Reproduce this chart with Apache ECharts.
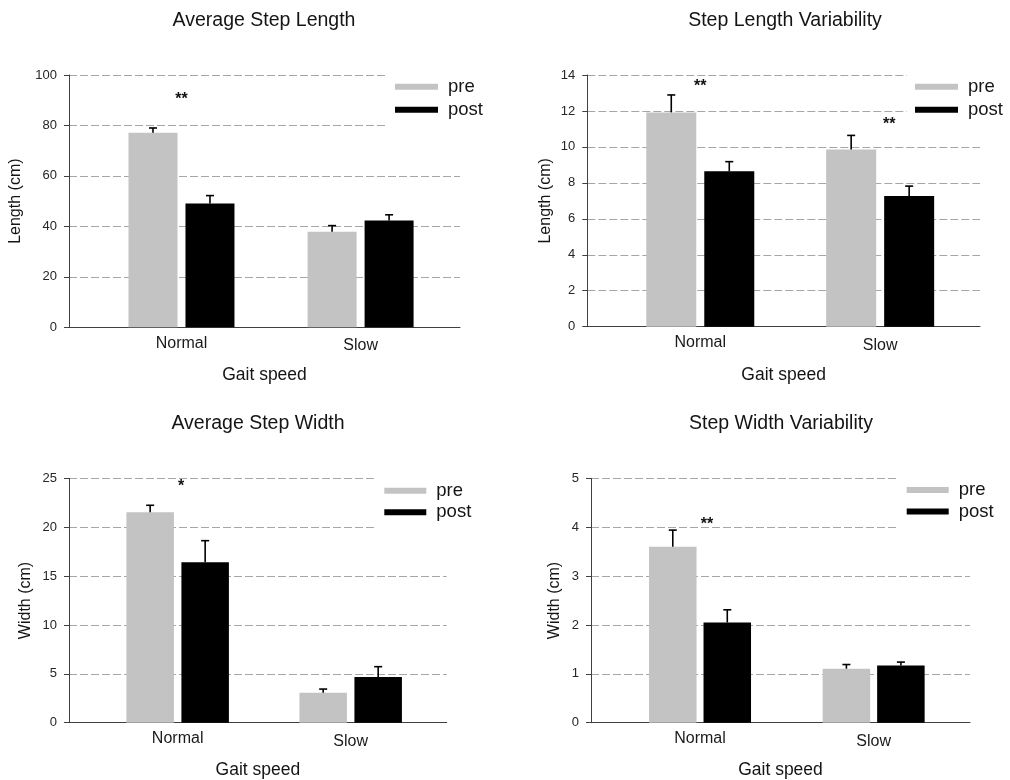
<!DOCTYPE html>
<html>
<head>
<meta charset="utf-8">
<title>Gait speed - step length and width</title>
<script src="https://cdn.jsdelivr.net/npm/echarts@6/dist/echarts.min.js"></script>
<style>
html, body { margin: 0; padding: 0; background: #fff; }
#main { width: 1010px; height: 780px; }
</style>
</head>
<body>
<div id="main"></div>
<script>
// data
var categories = ['Normal', 'Slow'];
var groupNames = ['pre', 'post'];

var stepLengthPre = [77.1, 37.9];
var stepLengthPreErr = [1.9, 2.4];
var stepLengthPost = [49.1, 42.3];
var stepLengthPostErr = [3.1, 2.3];

var lengthVarPre = [11.92, 9.86];
var lengthVarPreErr = [0.97, 0.78];
var lengthVarPost = [8.64, 7.27];
var lengthVarPostErr = [0.54, 0.55];

var stepWidthPre = [21.52, 3.07];
var stepWidthPreErr = [0.72, 0.37];
var stepWidthPost = [16.4, 4.67];
var stepWidthPostErr = [2.22, 1.06];

var widthVarPre = [3.60, 1.105];
var widthVarPreErr = [0.34, 0.085];
var widthVarPost = [2.05, 1.17];
var widthVarPostErr = [0.26, 0.07];

// significance marks: text and [category position, value]
var sigLengthText = ['**'];
var sigLengthAt = [[1.0, 91.5]];
var sigLengthVarText = ['**', '**'];
var sigLengthVarAt = [[1.0, 13.54], [2.05, 11.4]];
var sigWidthText = ['*'];
var sigWidthAt = [[1.02, 24.45]];
var sigWidthVarText = ['**'];
var sigWidthVarAt = [[1.04, 4.11]];

var titles = ['Average Step Length', 'Step Length Variability', 'Average Step Width', 'Step Width Variability'];
var yNames = ['Length (cm)', 'Length (cm)', 'Width (cm)', 'Width (cm)'];
var xName = 'Gait speed';
var yMax = [100, 14, 25, 5];
var yStep = [20, 2, 5, 1];

var panelData = [
  {pre: stepLengthPre, preErr: stepLengthPreErr, post: stepLengthPost, postErr: stepLengthPostErr, sigText: sigLengthText, sigAt: sigLengthAt},
  {pre: lengthVarPre, preErr: lengthVarPreErr, post: lengthVarPost, postErr: lengthVarPostErr, sigText: sigLengthVarText, sigAt: sigLengthVarAt},
  {pre: stepWidthPre, preErr: stepWidthPreErr, post: stepWidthPost, postErr: stepWidthPostErr, sigText: sigWidthText, sigAt: sigWidthAt},
  {pre: widthVarPre, preErr: widthVarPreErr, post: widthVarPost, postErr: widthVarPostErr, sigText: sigWidthVarText, sigAt: sigWidthVarAt}
];

// layout of the four panels
var layout = [
  {grid: {left: 69, top: 75, width: 391, height: 252.3}, barWidth: 49, gap: 8,
   titleX: 264, titleY: 20.5, yNameGap: 45, xNameGap: 39,
   legend: {left: 387, top: 70, padding: [6.7, 12, 9, 8], itemGap: 3, swatch: 43}},
  {grid: {left: 587.3, top: 75, width: 392.7, height: 251.7}, barWidth: 50, gap: 8,
   titleX: 785, titleY: 20.5, yNameGap: 34, xNameGap: 39,
   legend: {left: 906.7, top: 70, padding: [6.7, 4, 9, 8.3], itemGap: 3, swatch: 43}},
  {grid: {left: 69, top: 478.3, width: 377.7, height: 244.4}, barWidth: 47.5, gap: 7.5,
   titleX: 258, titleY: 424, yNameGap: 35.5, xNameGap: 38,
   legend: {left: 375, top: 474, padding: [6.7, 12, 9, 9.3], itemGap: 1.6, swatch: 42}},
  {grid: {left: 591, top: 478.3, width: 379, height: 244.4}, barWidth: 47.5, gap: 7,
   titleX: 781, titleY: 424, yNameGap: 28, xNameGap: 38,
   legend: {left: 897.7, top: 474, padding: [6, 4, 9, 9], itemGap: 1.6, swatch: 42}}
];

var FONT = '"Liberation Sans", Arial, sans-serif';
var GREY = '#c3c3c3';
var BLACK = '#000000';

function pairs(vals) {
  return vals.map(function (v, i) { return [i + 1, v]; });
}
function triples(vals, errs) {
  return vals.map(function (v, i) { return [i + 1, v, errs[i]]; });
}

function errorSeries(idx, vals, errs, offset) {
  return {
    type: 'custom',
    name: 'err',
    xAxisIndex: idx,
    yAxisIndex: idx,
    z: 3,
    silent: true,
    data: triples(vals, errs),
    encode: {x: 0, y: 1},
    renderItem: function (params, api) {
      var base = api.coord([api.value(0), api.value(1)]);
      var top = api.coord([api.value(0), api.value(1) + api.value(2)]);
      var cx = base[0] + offset;
      var st = {stroke: '#000', lineWidth: 1.6};
      return {
        type: 'group',
        children: [
          {type: 'line', shape: {x1: cx, y1: base[1], x2: cx, y2: top[1]}, style: st},
          {type: 'line', shape: {x1: cx - 4, y1: top[1], x2: cx + 4, y2: top[1]}, style: st}
        ]
      };
    }
  };
}

function sigSeries(idx, texts, at) {
  return {
    type: 'custom',
    name: 'sig',
    xAxisIndex: idx,
    yAxisIndex: idx,
    z: 4,
    silent: true,
    data: at,
    encode: {x: 0, y: 1},
    renderItem: function (params, api) {
      var p = api.coord([api.value(0), api.value(1)]);
      return {
        type: 'text',
        x: p[0],
        y: p[1] + 3,
        style: {
          text: texts[params.dataIndex],
          align: 'center',
          verticalAlign: 'middle',
          fontSize: 16,
          fontWeight: 'bold',
          fontFamily: FONT,
          fill: '#111'
        }
      };
    }
  };
}

var grids = [], xAxes = [], yAxes = [], legends = [], titleList = [], series = [];

layout.forEach(function (L, i) {
  var d = panelData[i];
  grids.push(L.grid);

  titleList.push({
    text: titles[i],
    left: L.titleX,
    top: L.titleY,
    textAlign: 'center',
    textVerticalAlign: 'middle',
    padding: 0,
    textStyle: {fontFamily: FONT, fontSize: 19.5, fontWeight: 'normal', color: '#141414'}
  });

  xAxes.push({
    type: 'value',
    gridIndex: i,
    min: 0.372,
    max: 2.555,
    name: xName,
    nameLocation: 'middle',
    nameGap: L.xNameGap,
    nameTextStyle: {fontFamily: FONT, fontSize: 17.5, color: '#141414'},
    axisLine: {show: true, lineStyle: {color: '#404040', width: 1}},
    axisTick: {show: false},
    splitLine: {show: false},
    axisLabel: {
      customValues: [1, 2],
      margin: 8,
      fontFamily: FONT,
      fontSize: 16,
      color: '#1a1a1a',
      formatter: function (v) {
        var k = Math.round(v) - 1;
        return k === 1 ? '{s|' + categories[k] + '}' : categories[k];
      },
      rich: {s: {fontFamily: FONT, fontSize: 16, color: '#1a1a1a', padding: [2.5, 0, 0, 0]}}
    }
  });

  yAxes.push({
    type: 'value',
    gridIndex: i,
    min: 0,
    max: yMax[i],
    interval: yStep[i],
    name: yNames[i],
    nameLocation: 'middle',
    nameRotate: 90,
    nameGap: L.yNameGap,
    nameTextStyle: {fontFamily: FONT, fontSize: 16, color: '#141414'},
    axisLine: {show: true, lineStyle: {color: '#404040', width: 1}},
    axisTick: {show: true, length: 5, lineStyle: {color: '#404040'}},
    axisLabel: {margin: 12, fontFamily: FONT, fontSize: 13, color: '#262626'},
    splitLine: {show: true, lineStyle: {color: '#a6a6a6', width: 1, type: [8, 3]}}
  });

  legends.push({
    data: groupNames,
    orient: 'vertical',
    left: L.legend.left,
    top: L.legend.top,
    padding: L.legend.padding,
    itemGap: L.legend.itemGap,
    itemWidth: L.legend.swatch,
    itemHeight: 6,
    icon: 'rect',
    backgroundColor: '#ffffff',
    selectedMode: false,
    textStyle: {fontFamily: FONT, fontSize: 18.5, lineHeight: 20, color: '#141414', padding: [0, 0, 0, 5]}
  });

  var gapPct = (L.gap / L.barWidth * 100).toFixed(1) + '%';
  var off = (L.barWidth + L.gap) / 2;

  series.push({
    type: 'bar', name: groupNames[0], xAxisIndex: i, yAxisIndex: i,
    barWidth: L.barWidth, barGap: gapPct,
    itemStyle: {color: GREY},
    data: pairs(d.pre)
  });
  series.push({
    type: 'bar', name: groupNames[1], xAxisIndex: i, yAxisIndex: i,
    barWidth: L.barWidth, barGap: gapPct,
    itemStyle: {color: BLACK},
    data: pairs(d.post)
  });
  series.push(errorSeries(i, d.pre, d.preErr, -off));
  series.push(errorSeries(i, d.post, d.postErr, off));
  series.push(sigSeries(i, d.sigText, d.sigAt));
});

var myChart = echarts.init(document.getElementById('main'), null, {renderer: 'canvas'});
var option = {
  backgroundColor: '#ffffff',
  animation: false,
  title: titleList,
  legend: legends,
  grid: grids,
  xAxis: xAxes,
  yAxis: yAxes,
  series: series
};
myChart.setOption(option);
</script>
</body>
</html>
